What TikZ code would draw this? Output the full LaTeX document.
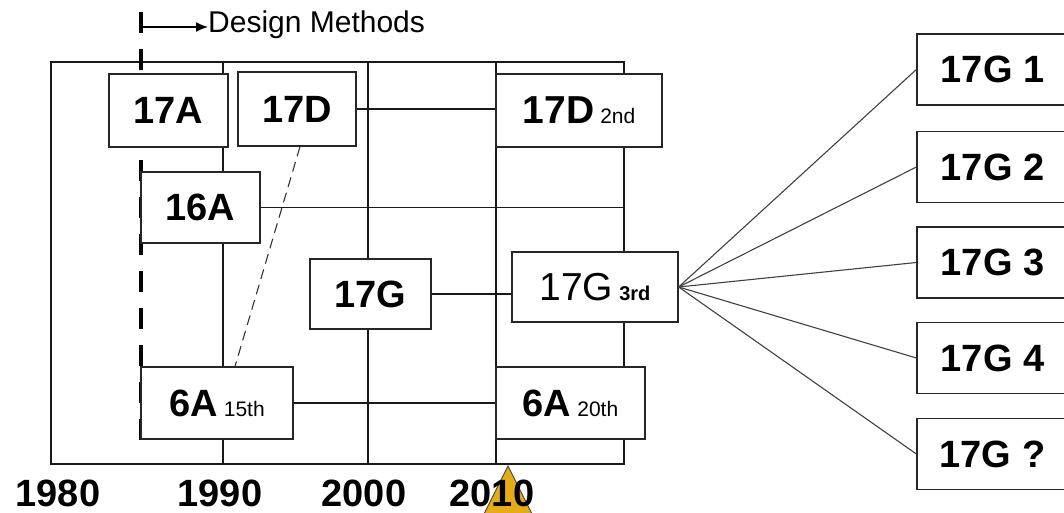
\documentclass[tikz,border=0pt]{standalone}
\usepackage{fontspec}
\setmainfont{Liberation Sans}
\usetikzlibrary{arrows.meta}
\definecolor{gold}{HTML}{E5AC17}
\tikzset{
  box/.style={draw=black!85, line width=1.3pt, fill=white, rectangle, inner sep=0pt},
  grid/.style={black!90, line width=1.3pt},
  big/.style={font=\fontsize{38}{40}\selectfont\bfseries},
  year/.style={font=\fontsize{38}{40}\selectfont\bfseries, inner sep=0pt, text depth=0pt},
  fan/.style={black!75, line width=1.1pt}
}
\newcommand{\sm}[1]{{\fontsize{21}{23}\selectfont\mdseries #1}}
\begin{document}
\begin{tikzpicture}[x=1pt,y=-1pt]
\useasboundingbox (0,0) rectangle (1064,513);
% target arrow
\fill[gold, draw=black!70, line width=1pt] (508,466) -- (540,530) -- (476,530) -- cycle;
% grid
\coordinate (gTL) at (51,62);
\coordinate (gBR) at (624,464);
\draw[grid] (gTL) rectangle (gBR);
\draw[grid] (223,62) -- (223,464);
\draw[grid] (368,62) -- (368,464);
\draw[grid] (496,62) -- (496,464);
% years
\node[year] (y80) at (58,493) {1980};
\node[year] (y90) at (220,493) {1990};
\node[year] (y00) at (364,493) {2000};
\node[year] (y10) at (492,493) {2010};
% design methods
\coordinate (dmtop) at (141,12);
\coordinate (dmbot) at (141,451);
\draw[line width=4pt, dash pattern=on 21pt off 16pt] (dmtop) -- (dmbot);
\node[font=\fontsize{30}{32}\selectfont, anchor=west, inner sep=0pt] (dm) at (208,25) {Design Methods};
\coordinate (dmarr) at (141,27);
\draw[line width=1.5pt, -{Latex[length=12pt,width=10pt]}] (dmarr) -- (dmarr -| dm.west);
% boxes
\node[box, minimum width=119pt, minimum height=73pt, big] (A17) at (168.5,110.5) {17A};
\node[box, minimum width=118pt, minimum height=74pt, big] (D17) at (297,109) {17D};
\node[box, minimum width=166pt, minimum height=73pt] (D17b) at (579,110.5) {{\fontsize{39}{40}\selectfont\bfseries 17D}\hspace{6pt}\sm{2nd}};
\node[box, minimum width=119pt, minimum height=71pt, big] (A16) at (200.5,207.5) {16A};
\node[box, minimum width=121pt, minimum height=70pt, big] (G17) at (370.5,294) {17G};
\node[box, minimum width=166pt, minimum height=70pt] (G17c) at (595,287) {{\fontsize{39}{40}\selectfont 17G}\hspace{6pt}{\fontsize{20}{22}\selectfont\bfseries 3rd}};
\node[box, minimum width=152pt, minimum height=72pt] (A6a) at (217,403) {{\fontsize{38}{40}\selectfont\bfseries 6A}\hspace{6pt}\sm{15th}};
\node[box, minimum width=149pt, minimum height=72pt] (A6b) at (570.5,403) {{\fontsize{38}{40}\selectfont\bfseries 6A}\hspace{6pt}\sm{20th}};
% right boxes
\foreach \n/\y/\t in {1/69.5/1, 2/167/2, 3/262.5/3, 4/358/4, 5/454/?}{
  \node[box, minimum width=151pt, minimum height=71pt, font=\fontsize{38}{40}\selectfont\bfseries] (R\n) at (992.5,\y) {17G \t};
}
% connectors
\draw[grid] (D17.east) -- (D17.east -| D17b.west);
\draw[grid] (A16.east) -- (A16.east -| gBR);
\draw[grid] (G17.east) -- (G17.east -| G17c.west);
\draw[grid] (A6a.east) -- (A6a.east -| A6b.west);
\draw[black!80, line width=1.1pt, dash pattern=on 10pt off 6pt] ([xshift=3pt]D17.south) -- ([xshift=18pt]A6a.north);
\foreach \n in {1,...,5}{
  \draw[fan] (G17c.east) -- (R\n.west);
}
\end{tikzpicture}
\end{document}
